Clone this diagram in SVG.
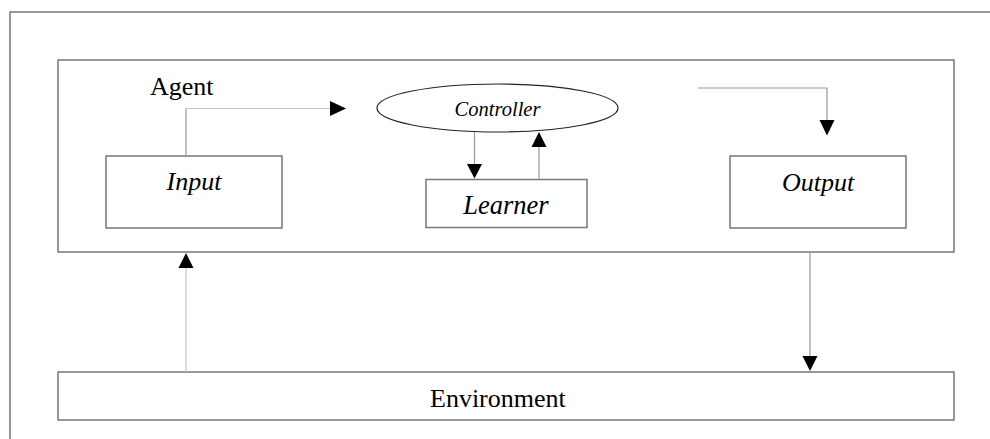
<svg xmlns="http://www.w3.org/2000/svg" width="990" height="439" viewBox="0 0 990 439">
<style>
.box{fill:#fff;stroke:#777;stroke-width:1.5}
.lbl{font-family:"Liberation Serif","Times New Roman",serif;fill:#000}
.it{font-style:italic}
.ln{fill:none;stroke:#999;stroke-width:1.2}
.lnl{fill:none;stroke:#c4c4c4;stroke-width:1.2}
.ah{fill:#000}
</style>
<rect width="990" height="439" fill="#fff"/>
<path d="M10 445 V12 H1000" fill="none" stroke="#777" stroke-width="1.5"/>
<g id="agent">
<rect class="box" x="58" y="60" width="896" height="192"/>
<text class="lbl" x="150" y="95" font-size="26">Agent</text>
</g>
<g id="input">
<rect class="box" x="106" y="156" width="176" height="72"/>
<text class="lbl it" x="194" y="190" font-size="26" text-anchor="middle">Input</text>
</g>
<g id="controller">
<ellipse cx="497.5" cy="108" rx="120.5" ry="24" fill="#fff" stroke="#222" stroke-width="1.2"/>
<text class="lbl it" x="497.5" y="116" font-size="20.5" text-anchor="middle">Controller</text>
</g>
<g id="learner">
<rect class="box" x="426" y="179.5" width="161" height="48"/>
<text class="lbl it" x="506" y="214" font-size="26.5" text-anchor="middle">Learner</text>
</g>
<g id="output">
<rect class="box" x="730" y="156" width="176" height="72"/>
<text class="lbl it" x="818" y="190.5" font-size="26" text-anchor="middle">Output</text>
</g>
<g id="environment">
<rect class="box" x="58" y="372" width="896" height="48"/>
<text class="lbl" x="430" y="407" font-size="26">Environment</text>
</g>
<g id="connectors">
<path class="ln" d="M186 156 V108.5"/>
<path class="lnl" d="M186 108.5 H331"/>
<polygon class="ah" points="330,101 346,108.5 330,116"/>
<path class="ln" d="M474.5 132 V164"/>
<polygon class="ah" points="467,164 482,164 474.5,178.5"/>
<path class="ln" d="M539 179.5 V147"/>
<polygon class="ah" points="531.5,147 546.5,147 539,132"/>
<path class="ln" d="M698 88 H827 V120"/>
<polygon class="ah" points="819.5,120 834.5,120 827,135.5"/>
<path class="ln" d="M810 252 V356"/>
<polygon class="ah" points="802.5,356 817.5,356 810,371"/>
<path class="lnl" d="M186 372 V267"/>
<polygon class="ah" points="178.5,268 193.5,268 186,253"/>
</g>
</svg>
